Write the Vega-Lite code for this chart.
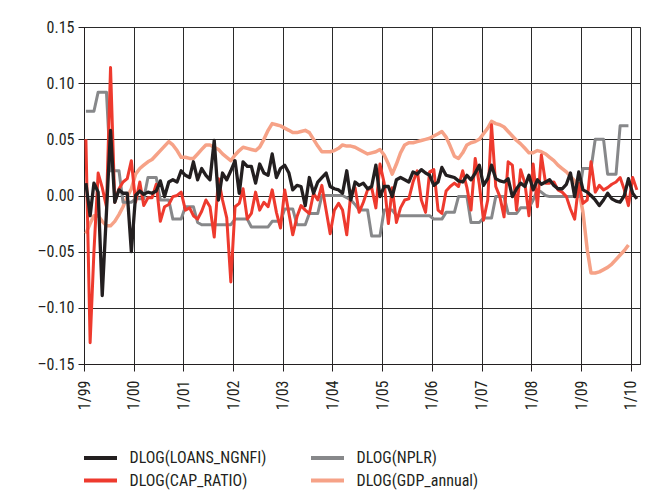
{
"$schema":"https://vega.github.io/schema/vega-lite/v6.json",
"width":556,"height":337,
"autosize":"none",
"padding":{"left":84,"top":27,"right":14,"bottom":136},
"background":"white",
"config":{
"font":"Roboto Condensed, Liberation Sans, sans-serif",
"view":{"stroke":"#333333","strokeWidth":1},
"axis":{"labelFont":"Roboto Condensed, Liberation Sans, sans-serif","labelFontSize":16,"labelColor":"#231f20","domainColor":"#231f20","tickColor":"#231f20","gridColor":"#2a2a2a","gridOpacity":1,"gridWidth":1,"tickSize":6,"title":null},
"legend":{"labelFont":"Roboto Condensed, Liberation Sans, sans-serif","labelFontSize":16,"labelColor":"#231f20"}
},
"datasets":{
"gdp":[
{"date":"1999-01-15","v":-0.034},{"date":"1999-02-15","v":-0.025},{"date":"1999-03-15","v":-0.018},{"date":"1999-04-15","v":-0.018},{"date":"1999-05-15","v":-0.023},{"date":"1999-06-15","v":-0.027},{"date":"1999-07-15","v":-0.027},{"date":"1999-08-15","v":-0.023},{"date":"1999-09-15","v":-0.017},{"date":"1999-10-15","v":-0.010},{"date":"1999-11-15","v":-0.001},{"date":"1999-12-15","v":0.006},
{"date":"2000-01-15","v":0.019},{"date":"2000-02-15","v":0.024},{"date":"2000-03-15","v":0.027},{"date":"2000-04-15","v":0.030},{"date":"2000-05-15","v":0.032},{"date":"2000-06-15","v":0.036},{"date":"2000-07-15","v":0.040},{"date":"2000-08-15","v":0.044},{"date":"2000-09-15","v":0.048},{"date":"2000-10-15","v":0.045},{"date":"2000-11-15","v":0.040},{"date":"2000-12-15","v":0.034},
{"date":"2001-01-15","v":0.034},{"date":"2001-02-15","v":0.033},{"date":"2001-03-15","v":0.033},{"date":"2001-04-15","v":0.037},{"date":"2001-05-15","v":0.041},{"date":"2001-06-15","v":0.045},{"date":"2001-07-15","v":0.045},{"date":"2001-08-15","v":0.043},{"date":"2001-09-15","v":0.041},{"date":"2001-10-15","v":0.037},{"date":"2001-11-15","v":0.034},{"date":"2001-12-15","v":0.031},
{"date":"2002-01-15","v":0.036},{"date":"2002-02-15","v":0.040},{"date":"2002-03-15","v":0.043},{"date":"2002-04-15","v":0.042},{"date":"2002-05-15","v":0.041},{"date":"2002-06-15","v":0.040},{"date":"2002-07-15","v":0.043},{"date":"2002-08-15","v":0.050},{"date":"2002-09-15","v":0.058},{"date":"2002-10-15","v":0.064},{"date":"2002-11-15","v":0.063},{"date":"2002-12-15","v":0.062},
{"date":"2003-01-15","v":0.060},{"date":"2003-02-15","v":0.058},{"date":"2003-03-15","v":0.056},{"date":"2003-04-15","v":0.056},{"date":"2003-05-15","v":0.057},{"date":"2003-06-15","v":0.058},{"date":"2003-07-15","v":0.056},{"date":"2003-08-15","v":0.050},{"date":"2003-09-15","v":0.044},{"date":"2003-10-15","v":0.039},{"date":"2003-11-15","v":0.039},{"date":"2003-12-15","v":0.039},
{"date":"2004-01-15","v":0.040},{"date":"2004-02-15","v":0.042},{"date":"2004-03-15","v":0.045},{"date":"2004-04-15","v":0.044},{"date":"2004-05-15","v":0.044},{"date":"2004-06-15","v":0.043},{"date":"2004-07-15","v":0.041},{"date":"2004-08-15","v":0.039},{"date":"2004-09-15","v":0.037},{"date":"2004-10-15","v":0.038},{"date":"2004-11-15","v":0.039},{"date":"2004-12-15","v":0.041},
{"date":"2005-01-15","v":0.036},{"date":"2005-02-15","v":0.028},{"date":"2005-03-15","v":0.019},{"date":"2005-04-15","v":0.028},{"date":"2005-05-15","v":0.038},{"date":"2005-06-15","v":0.045},{"date":"2005-07-15","v":0.047},{"date":"2005-08-15","v":0.047},{"date":"2005-09-15","v":0.048},{"date":"2005-10-15","v":0.049},{"date":"2005-11-15","v":0.050},{"date":"2005-12-15","v":0.051},
{"date":"2006-01-15","v":0.053},{"date":"2006-02-15","v":0.055},{"date":"2006-03-15","v":0.057},{"date":"2006-04-15","v":0.052},{"date":"2006-05-15","v":0.044},{"date":"2006-06-15","v":0.035},{"date":"2006-07-15","v":0.033},{"date":"2006-08-15","v":0.038},{"date":"2006-09-15","v":0.045},{"date":"2006-10-15","v":0.047},{"date":"2006-11-15","v":0.048},{"date":"2006-12-15","v":0.050},
{"date":"2007-01-15","v":0.055},{"date":"2007-02-15","v":0.060},{"date":"2007-03-15","v":0.066},{"date":"2007-04-15","v":0.064},{"date":"2007-05-15","v":0.063},{"date":"2007-06-15","v":0.061},{"date":"2007-07-15","v":0.057},{"date":"2007-08-15","v":0.053},{"date":"2007-09-15","v":0.049},{"date":"2007-10-15","v":0.046},{"date":"2007-11-15","v":0.042},{"date":"2007-12-15","v":0.038},
{"date":"2008-01-15","v":0.038},{"date":"2008-02-15","v":0.040},{"date":"2008-03-15","v":0.039},{"date":"2008-04-15","v":0.037},{"date":"2008-05-15","v":0.034},{"date":"2008-06-15","v":0.031},{"date":"2008-07-15","v":0.027},{"date":"2008-08-15","v":0.024},{"date":"2008-09-15","v":0.021},{"date":"2008-10-15","v":0.017},{"date":"2008-11-15","v":0.013},{"date":"2008-12-15","v":0.005},
{"date":"2009-01-15","v":-0.015},{"date":"2009-02-15","v":-0.048},{"date":"2009-03-15","v":-0.069},{"date":"2009-04-15","v":-0.069},{"date":"2009-05-15","v":-0.068},{"date":"2009-06-15","v":-0.066},{"date":"2009-07-15","v":-0.064},{"date":"2009-08-15","v":-0.061},{"date":"2009-09-15","v":-0.057},{"date":"2009-10-15","v":-0.053},{"date":"2009-11-15","v":-0.049},{"date":"2009-12-15","v":-0.044}
],
"nplr":[
{"date":"1999-01-15","v":0.075},{"date":"1999-02-15","v":0.075},{"date":"1999-03-15","v":0.075},{"date":"1999-04-15","v":0.092},{"date":"1999-05-15","v":0.092},{"date":"1999-06-15","v":0.092},{"date":"1999-07-15","v":0.022},{"date":"1999-08-15","v":0.022},{"date":"1999-09-15","v":0.022},{"date":"1999-10-15","v":-0.006},{"date":"1999-11-15","v":-0.006},{"date":"1999-12-15","v":-0.006},
{"date":"2000-01-15","v":-0.003},{"date":"2000-02-15","v":-0.003},{"date":"2000-03-15","v":-0.003},{"date":"2000-04-15","v":0.016},{"date":"2000-05-15","v":0.016},{"date":"2000-06-15","v":0.016},{"date":"2000-07-15","v":-0.004},{"date":"2000-08-15","v":-0.004},{"date":"2000-09-15","v":-0.004},{"date":"2000-10-15","v":-0.021},{"date":"2000-11-15","v":-0.021},{"date":"2000-12-15","v":-0.021},
{"date":"2001-01-15","v":-0.010},{"date":"2001-02-15","v":-0.010},{"date":"2001-03-15","v":-0.010},{"date":"2001-04-15","v":-0.024},{"date":"2001-05-15","v":-0.026},{"date":"2001-06-15","v":-0.026},{"date":"2001-07-15","v":-0.026},{"date":"2001-08-15","v":-0.026},{"date":"2001-09-15","v":-0.026},{"date":"2001-10-15","v":-0.026},{"date":"2001-11-15","v":-0.026},{"date":"2001-12-15","v":-0.026},
{"date":"2002-01-15","v":-0.021},{"date":"2002-02-15","v":-0.021},{"date":"2002-03-15","v":-0.021},{"date":"2002-04-15","v":-0.021},{"date":"2002-05-15","v":-0.028},{"date":"2002-06-15","v":-0.028},{"date":"2002-07-15","v":-0.028},{"date":"2002-08-15","v":-0.028},{"date":"2002-09-15","v":-0.028},{"date":"2002-10-15","v":-0.023},{"date":"2002-11-15","v":-0.023},{"date":"2002-12-15","v":-0.023},
{"date":"2003-01-15","v":-0.012},{"date":"2003-02-15","v":-0.012},{"date":"2003-03-15","v":-0.012},{"date":"2003-04-15","v":-0.026},{"date":"2003-05-15","v":-0.026},{"date":"2003-06-15","v":-0.026},{"date":"2003-07-15","v":-0.016},{"date":"2003-08-15","v":-0.016},{"date":"2003-09-15","v":-0.016},{"date":"2003-10-15","v":0.000},{"date":"2003-11-15","v":0.000},{"date":"2003-12-15","v":0.000},
{"date":"2004-01-15","v":0.000},{"date":"2004-02-15","v":0.000},{"date":"2004-03-15","v":0.000},{"date":"2004-04-15","v":-0.002},{"date":"2004-05-15","v":-0.004},{"date":"2004-06-15","v":-0.008},{"date":"2004-07-15","v":-0.013},{"date":"2004-08-15","v":-0.013},{"date":"2004-09-15","v":-0.013},{"date":"2004-10-15","v":-0.036},{"date":"2004-11-15","v":-0.036},{"date":"2004-12-15","v":-0.036},
{"date":"2005-01-15","v":-0.013},{"date":"2005-02-15","v":-0.013},{"date":"2005-03-15","v":-0.013},{"date":"2005-04-15","v":-0.018},{"date":"2005-05-15","v":-0.018},{"date":"2005-06-15","v":-0.018},{"date":"2005-07-15","v":-0.018},{"date":"2005-08-15","v":-0.018},{"date":"2005-09-15","v":-0.018},{"date":"2005-10-15","v":-0.018},{"date":"2005-11-15","v":-0.018},{"date":"2005-12-15","v":-0.018},
{"date":"2006-01-15","v":-0.021},{"date":"2006-02-15","v":-0.021},{"date":"2006-03-15","v":-0.021},{"date":"2006-04-15","v":-0.015},{"date":"2006-05-15","v":-0.015},{"date":"2006-06-15","v":-0.015},{"date":"2006-07-15","v":-0.001},{"date":"2006-08-15","v":-0.001},{"date":"2006-09-15","v":-0.001},{"date":"2006-10-15","v":-0.024},{"date":"2006-11-15","v":-0.024},{"date":"2006-12-15","v":-0.024},
{"date":"2007-01-15","v":-0.020},{"date":"2007-02-15","v":-0.020},{"date":"2007-03-15","v":-0.020},{"date":"2007-04-15","v":-0.001},{"date":"2007-05-15","v":-0.001},{"date":"2007-06-15","v":-0.001},{"date":"2007-07-15","v":-0.016},{"date":"2007-08-15","v":-0.016},{"date":"2007-09-15","v":-0.016},{"date":"2007-10-15","v":-0.011},{"date":"2007-11-15","v":-0.011},{"date":"2007-12-15","v":-0.011},
{"date":"2008-01-15","v":-0.004},{"date":"2008-02-15","v":0.005},{"date":"2008-03-15","v":0.003},{"date":"2008-04-15","v":0.000},{"date":"2008-05-15","v":-0.001},{"date":"2008-06-15","v":-0.001},{"date":"2008-07-15","v":-0.001},{"date":"2008-08-15","v":-0.001},{"date":"2008-09-15","v":-0.001},{"date":"2008-10-15","v":-0.001},{"date":"2008-11-15","v":-0.001},{"date":"2008-12-15","v":-0.001},
{"date":"2009-01-15","v":0.024},{"date":"2009-02-15","v":0.024},{"date":"2009-03-15","v":0.024},{"date":"2009-04-15","v":0.050},{"date":"2009-05-15","v":0.050},{"date":"2009-06-15","v":0.050},{"date":"2009-07-15","v":0.019},{"date":"2009-08-15","v":0.019},{"date":"2009-09-15","v":0.019},{"date":"2009-10-15","v":0.062},{"date":"2009-11-15","v":0.062},{"date":"2009-12-15","v":0.062}
],
"cap":[
{"date":"1999-01-15","v":0.050},{"date":"1999-02-15","v":-0.131},{"date":"1999-03-15","v":-0.050},{"date":"1999-04-15","v":0.020},{"date":"1999-05-15","v":0.007},{"date":"1999-06-15","v":-0.010},{"date":"1999-07-15","v":0.114},{"date":"1999-08-15","v":-0.006},{"date":"1999-09-15","v":0.006},{"date":"1999-10-15","v":0.012},{"date":"1999-11-15","v":0.015},{"date":"1999-12-15","v":0.031},
{"date":"2000-01-15","v":-0.006},{"date":"2000-02-15","v":0.012},{"date":"2000-03-15","v":-0.009},{"date":"2000-04-15","v":-0.002},{"date":"2000-05-15","v":-0.002},{"date":"2000-06-15","v":0.010},{"date":"2000-07-15","v":-0.023},{"date":"2000-08-15","v":-0.010},{"date":"2000-09-15","v":-0.008},{"date":"2000-10-15","v":-0.001},{"date":"2000-11-15","v":0.000},{"date":"2000-12-15","v":0.003},
{"date":"2001-01-15","v":-0.013},{"date":"2001-02-15","v":-0.011},{"date":"2001-03-15","v":-0.018},{"date":"2001-04-15","v":-0.021},{"date":"2001-05-15","v":-0.014},{"date":"2001-06-15","v":-0.004},{"date":"2001-07-15","v":-0.010},{"date":"2001-08-15","v":-0.037},{"date":"2001-09-15","v":0.015},{"date":"2001-10-15","v":-0.004},{"date":"2001-11-15","v":-0.020},{"date":"2001-12-15","v":-0.077},
{"date":"2002-01-15","v":-0.010},{"date":"2002-02-15","v":-0.007},{"date":"2002-03-15","v":0.006},{"date":"2002-04-15","v":-0.021},{"date":"2002-05-15","v":-0.016},{"date":"2002-06-15","v":0.003},{"date":"2002-07-15","v":-0.013},{"date":"2002-08-15","v":-0.006},{"date":"2002-09-15","v":-0.010},{"date":"2002-10-15","v":0.005},{"date":"2002-11-15","v":-0.015},{"date":"2002-12-15","v":-0.029},
{"date":"2003-01-15","v":0.005},{"date":"2003-02-15","v":-0.016},{"date":"2003-03-15","v":-0.035},{"date":"2003-04-15","v":-0.019},{"date":"2003-05-15","v":-0.009},{"date":"2003-06-15","v":-0.013},{"date":"2003-07-15","v":-0.016},{"date":"2003-08-15","v":0.002},{"date":"2003-09-15","v":-0.004},{"date":"2003-10-15","v":0.009},{"date":"2003-11-15","v":-0.013},{"date":"2003-12-15","v":-0.034},
{"date":"2004-01-15","v":-0.013},{"date":"2004-02-15","v":-0.007},{"date":"2004-03-15","v":-0.013},{"date":"2004-04-15","v":-0.035},{"date":"2004-05-15","v":0.002},{"date":"2004-06-15","v":0.007},{"date":"2004-07-15","v":-0.015},{"date":"2004-08-15","v":-0.006},{"date":"2004-09-15","v":0.005},{"date":"2004-10-15","v":0.007},{"date":"2004-11-15","v":-0.011},{"date":"2004-12-15","v":0.028},
{"date":"2005-01-15","v":0.011},{"date":"2005-02-15","v":-0.025},{"date":"2005-03-15","v":0.007},{"date":"2005-04-15","v":-0.024},{"date":"2005-05-15","v":-0.011},{"date":"2005-06-15","v":-0.004},{"date":"2005-07-15","v":-0.003},{"date":"2005-08-15","v":0.012},{"date":"2005-09-15","v":0.022},{"date":"2005-10-15","v":-0.004},{"date":"2005-11-15","v":-0.015},{"date":"2005-12-15","v":0.021},
{"date":"2006-01-15","v":0.023},{"date":"2006-02-15","v":-0.013},{"date":"2006-03-15","v":-0.016},{"date":"2006-04-15","v":0.004},{"date":"2006-05-15","v":0.008},{"date":"2006-06-15","v":0.011},{"date":"2006-07-15","v":0.008},{"date":"2006-08-15","v":0.022},{"date":"2006-09-15","v":0.007},{"date":"2006-10-15","v":-0.013},{"date":"2006-11-15","v":0.033},{"date":"2006-12-15","v":0.010},
{"date":"2007-01-15","v":-0.022},{"date":"2007-02-15","v":-0.004},{"date":"2007-03-15","v":0.063},{"date":"2007-04-15","v":0.008},{"date":"2007-05-15","v":-0.001},{"date":"2007-06-15","v":-0.019},{"date":"2007-07-15","v":0.030},{"date":"2007-08-15","v":0.027},{"date":"2007-09-15","v":-0.013},{"date":"2007-10-15","v":0.023},{"date":"2007-11-15","v":0.011},{"date":"2007-12-15","v":-0.018},
{"date":"2008-01-15","v":0.028},{"date":"2008-02-15","v":-0.010},{"date":"2008-03-15","v":0.036},{"date":"2008-04-15","v":0.011},{"date":"2008-05-15","v":0.011},{"date":"2008-06-15","v":0.012},{"date":"2008-07-15","v":0.005},{"date":"2008-08-15","v":0.003},{"date":"2008-09-15","v":-0.001},{"date":"2008-10-15","v":-0.012},{"date":"2008-11-15","v":-0.021},{"date":"2008-12-15","v":0.011},
{"date":"2009-01-15","v":-0.007},{"date":"2009-02-15","v":-0.004},{"date":"2009-03-15","v":0.030},{"date":"2009-04-15","v":0.003},{"date":"2009-05-15","v":0.009},{"date":"2009-06-15","v":0.005},{"date":"2009-07-15","v":0.007},{"date":"2009-08-15","v":0.010},{"date":"2009-09-15","v":0.012},{"date":"2009-10-15","v":0.016},{"date":"2009-11-15","v":0.005},{"date":"2009-12-15","v":-0.009},
{"date":"2010-01-15","v":0.016},{"date":"2010-02-15","v":0.005}
],
"loans":[
{"date":"1999-01-15","v":0.011},{"date":"1999-02-15","v":-0.018},{"date":"1999-03-15","v":0.011},{"date":"1999-04-15","v":0.003},{"date":"1999-05-15","v":-0.089},{"date":"1999-06-15","v":-0.015},{"date":"1999-07-15","v":0.058},{"date":"1999-08-15","v":-0.006},{"date":"1999-09-15","v":0.005},{"date":"1999-10-15","v":0.002},{"date":"1999-11-15","v":0.002},{"date":"1999-12-15","v":-0.050},
{"date":"2000-01-15","v":0.000},{"date":"2000-02-15","v":0.004},{"date":"2000-03-15","v":0.001},{"date":"2000-04-15","v":0.003},{"date":"2000-05-15","v":0.002},{"date":"2000-06-15","v":0.004},{"date":"2000-07-15","v":0.013},{"date":"2000-08-15","v":-0.001},{"date":"2000-09-15","v":0.012},{"date":"2000-10-15","v":0.014},{"date":"2000-11-15","v":0.012},{"date":"2000-12-15","v":0.022},
{"date":"2001-01-15","v":0.018},{"date":"2001-02-15","v":0.016},{"date":"2001-03-15","v":0.030},{"date":"2001-04-15","v":0.014},{"date":"2001-05-15","v":0.024},{"date":"2001-06-15","v":0.018},{"date":"2001-07-15","v":0.014},{"date":"2001-08-15","v":0.049},{"date":"2001-09-15","v":-0.004},{"date":"2001-10-15","v":0.020},{"date":"2001-11-15","v":0.014},{"date":"2001-12-15","v":0.022},
{"date":"2002-01-15","v":0.031},{"date":"2002-02-15","v":0.002},{"date":"2002-03-15","v":0.030},{"date":"2002-04-15","v":0.026},{"date":"2002-05-15","v":0.026},{"date":"2002-06-15","v":0.011},{"date":"2002-07-15","v":0.028},{"date":"2002-08-15","v":0.020},{"date":"2002-09-15","v":0.018},{"date":"2002-10-15","v":0.037},{"date":"2002-11-15","v":0.016},{"date":"2002-12-15","v":0.024},
{"date":"2003-01-15","v":0.027},{"date":"2003-02-15","v":0.020},{"date":"2003-03-15","v":0.005},{"date":"2003-04-15","v":0.009},{"date":"2003-05-15","v":0.008},{"date":"2003-06-15","v":-0.009},{"date":"2003-07-15","v":0.016},{"date":"2003-08-15","v":0.002},{"date":"2003-09-15","v":0.012},{"date":"2003-10-15","v":0.016},{"date":"2003-11-15","v":0.020},{"date":"2003-12-15","v":0.008},
{"date":"2004-01-15","v":0.006},{"date":"2004-02-15","v":0.005},{"date":"2004-03-15","v":0.002},{"date":"2004-04-15","v":0.022},{"date":"2004-05-15","v":-0.004},{"date":"2004-06-15","v":0.012},{"date":"2004-07-15","v":0.009},{"date":"2004-08-15","v":0.011},{"date":"2004-09-15","v":0.006},{"date":"2004-10-15","v":0.008},{"date":"2004-11-15","v":0.027},{"date":"2004-12-15","v":-0.001},
{"date":"2005-01-15","v":0.008},{"date":"2005-02-15","v":0.008},{"date":"2005-03-15","v":-0.001},{"date":"2005-04-15","v":0.014},{"date":"2005-05-15","v":0.016},{"date":"2005-06-15","v":0.014},{"date":"2005-07-15","v":0.012},{"date":"2005-08-15","v":0.021},{"date":"2005-09-15","v":0.019},{"date":"2005-10-15","v":0.023},{"date":"2005-11-15","v":0.020},{"date":"2005-12-15","v":0.018},
{"date":"2006-01-15","v":0.009},{"date":"2006-02-15","v":0.012},{"date":"2006-03-15","v":0.025},{"date":"2006-04-15","v":0.018},{"date":"2006-05-15","v":0.017},{"date":"2006-06-15","v":0.016},{"date":"2006-07-15","v":0.013},{"date":"2006-08-15","v":0.012},{"date":"2006-09-15","v":0.018},{"date":"2006-10-15","v":0.014},{"date":"2006-11-15","v":0.020},{"date":"2006-12-15","v":0.027},
{"date":"2007-01-15","v":0.009},{"date":"2007-02-15","v":0.015},{"date":"2007-03-15","v":0.027},{"date":"2007-04-15","v":0.015},{"date":"2007-05-15","v":0.013},{"date":"2007-06-15","v":0.012},{"date":"2007-07-15","v":0.015},{"date":"2007-08-15","v":-0.001},{"date":"2007-09-15","v":0.006},{"date":"2007-10-15","v":0.011},{"date":"2007-11-15","v":0.008},{"date":"2007-12-15","v":0.018},
{"date":"2008-01-15","v":0.005},{"date":"2008-02-15","v":0.014},{"date":"2008-03-15","v":0.010},{"date":"2008-04-15","v":0.012},{"date":"2008-05-15","v":0.014},{"date":"2008-06-15","v":0.009},{"date":"2008-07-15","v":0.006},{"date":"2008-08-15","v":0.006},{"date":"2008-09-15","v":0.010},{"date":"2008-10-15","v":0.020},{"date":"2008-11-15","v":-0.001},{"date":"2008-12-15","v":0.021},
{"date":"2009-01-15","v":0.005},{"date":"2009-02-15","v":0.003},{"date":"2009-03-15","v":0.000},{"date":"2009-04-15","v":-0.004},{"date":"2009-05-15","v":-0.009},{"date":"2009-06-15","v":-0.004},{"date":"2009-07-15","v":0.002},{"date":"2009-08-15","v":-0.003},{"date":"2009-09-15","v":-0.005},{"date":"2009-10-15","v":-0.006},{"date":"2009-11-15","v":0.000},{"date":"2009-12-15","v":0.015},
{"date":"2010-01-15","v":0.002},{"date":"2010-02-15","v":-0.003}
]
},
"encoding":{
"x":{"field":"date","type":"temporal",
"scale":{"type":"utc","domain":[{"year":1999,"month":1,"date":1,"utc":true},{"year":2010,"month":3,"date":10,"utc":true}]},
"axis":{"values":[{"year":1999,"month":1,"date":1,"utc":true},{"year":2000,"month":1,"date":1,"utc":true},{"year":2001,"month":1,"date":1,"utc":true},{"year":2002,"month":1,"date":1,"utc":true},{"year":2003,"month":1,"date":1,"utc":true},{"year":2004,"month":1,"date":1,"utc":true},{"year":2005,"month":1,"date":1,"utc":true},{"year":2006,"month":1,"date":1,"utc":true},{"year":2007,"month":1,"date":1,"utc":true},{"year":2008,"month":1,"date":1,"utc":true},{"year":2009,"month":1,"date":1,"utc":true},{"year":2010,"month":1,"date":1,"utc":true}],
"labelExpr":"utcFormat(datum.value, '%-m/%y')","labelAngle":-90,"labelPadding":9,"tickSize":7,"title":null,"grid":true}},
"y":{"field":"v","type":"quantitative",
"scale":{"domain":[-0.15,0.15],"nice":false,"zero":false},
"axis":{"values":[-0.15,-0.1,-0.05,0,0.05,0.1,0.15],"labelExpr":"(datum.value < 0 ? '\u2013' : '') + format(abs(datum.value), '.2f')","labelPadding":4,"tickSize":6,"title":null,"grid":true}}
},
"layer":[
{"data":{"name":"gdp"},"mark":{"type":"line","strokeWidth":3.5,"strokeJoin":"round","clip":true},
"encoding":{"color":{"datum":"DLOG(GDP_annual)","type":"nominal",
"scale":{"domain":["DLOG(LOANS_NGNFI)","DLOG(CAP_RATIO)","DLOG(NPLR)","DLOG(GDP_annual)"],"range":["#231f20","#ee3a2e","#87888a","#f6a287"]},
"legend":{"title":null,"orient":"none","legendX":8.5,"legendY":423,"columns":2,"symbolType":"M-3.3,0L3.3,0","symbolSize":100,"symbolStrokeWidth":4,"labelOffset":21,"columnPadding":36,"rowPadding":6.5,"padding":0,"labelLimit":0}}}},
{"data":{"name":"nplr"},"mark":{"type":"line","strokeWidth":3,"strokeJoin":"round","clip":true},
"encoding":{"color":{"datum":"DLOG(NPLR)","type":"nominal"}}},
{"data":{"name":"cap"},"mark":{"type":"line","strokeWidth":3,"strokeJoin":"round","clip":true},
"encoding":{"color":{"datum":"DLOG(CAP_RATIO)","type":"nominal"}}},
{"data":{"name":"loans"},"mark":{"type":"line","strokeWidth":3.3,"strokeJoin":"round","clip":true},
"encoding":{"color":{"datum":"DLOG(LOANS_NGNFI)","type":"nominal"}}}
]
}
